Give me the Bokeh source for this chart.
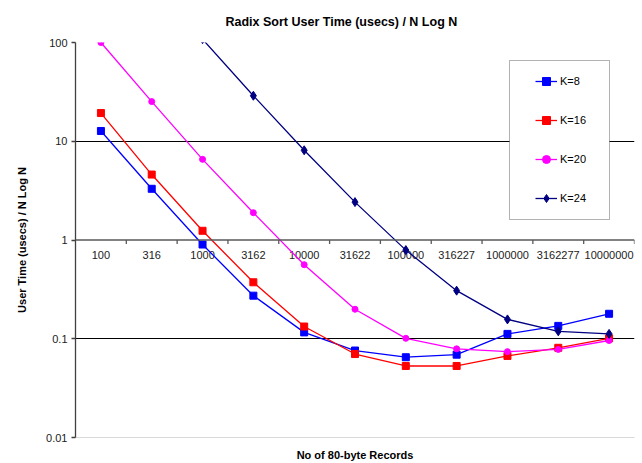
import math
from bokeh.plotting import figure
from bokeh.models import (FactorRange, Range1d, FixedTicker, Span, CategoricalAxis,
                          Legend, LegendItem, BoxAnnotation, ColumnDataSource,
                          CustomJSTickFormatter)
from bokeh.transform import dodge
from bokeh.core.properties import value
from bokeh.embed import file_html
from bokeh.resources import INLINE

# ---------------- data ----------------
records = ["100", "316", "1000", "3162", "10000", "31622", "100000", "316227",
           "1000000", "3162277", "10000000"]
k8 = [12.7, 3.3, 0.90, 0.273, 0.116, 0.076, 0.065, 0.069, 0.112, 0.135, 0.179]
k16 = [19.3, 4.6, 1.24, 0.373, 0.133, 0.070, 0.053, 0.053, 0.067, 0.081, 0.101]
k20 = [100.0, 25.2, 6.56, 1.89, 0.562, 0.199, 0.101, 0.079, 0.074, 0.078, 0.096]
k24 = [float("nan"), float("nan"), 108.0, 28.9, 8.1, 2.42, 0.79, 0.307, 0.157, 0.119, 0.112]
series_names = ["K=8", "K=16", "K=20", "K=24"]

y_ticks = [0.01, 0.1, 1, 10, 100]
y_tick_labels = ["0.01", "0.1", "1", "10", "100"]
grid_values = [0.1, 10]
x_axis_cross = 1

title_text = "Radix Sort User Time (usecs) / N Log N"
x_title = "No of 80-byte Records"
y_title = "User Time (usecs) / N Log N"

FONT = "Liberation Sans"

# ---------------- layout numbers ----------------
W, H = 642, 463
B_LEFT, B_RIGHT, B_TOP, B_BOTTOM = 75, 8, 42, 26
frame_w = W - B_LEFT - B_RIGHT
frame_h = H - B_TOP - B_BOTTOM
decades = math.log10(y_ticks[-1] / y_ticks[0])
px_per_decade = frame_h / decades
tick_px = 4

p = figure(width=W, height=H,
           x_range=FactorRange(factors=records),
           y_range=Range1d(y_ticks[0], y_ticks[-1]),
           y_axis_type="log", x_axis_location=None,
           output_backend="svg", toolbar_location=None,
           min_border_left=B_LEFT, min_border_right=B_RIGHT,
           min_border_top=B_TOP, min_border_bottom=B_BOTTOM)
p.outline_line_color = None
p.background_fill_color = "white"

# chart title
p.title.text = title_text
p.title.text_font = FONT
p.title.text_font_size = "12.5px"
p.title.text_font_style = "bold"
p.title.text_color = "black"
p.title.align = "left"
p.title.offset = 150
p.title.vertical_align = "top"
p.title.standoff = 24

# helper range for the tick-less bottom axis
p.extra_x_ranges = {"blank": FactorRange(factors=["blank"])}
bax = CategoricalAxis(x_range_name="blank", ticker=FixedTicker(ticks=[]),
                      axis_line_color="#d9d9d9", axis_line_width=1,
                      major_tick_line_color=None, minor_tick_line_color=None,
                      major_tick_out=0, major_tick_in=0, major_label_standoff=0,
                      axis_label=x_title, axis_label_standoff=11,
                      axis_label_text_font=FONT, axis_label_text_font_size="11px",
                      axis_label_text_font_style="bold",
                      axis_label_text_color="black")
p.add_layout(bax, "below")

# y axis
ya = p.yaxis[0]
ya.ticker = FixedTicker(ticks=y_ticks, minor_ticks=[])
ya.formatter = CustomJSTickFormatter(code="return String(tick);")
ya.major_label_overrides = dict(zip(y_ticks, y_tick_labels))
ya.axis_line_color = "#404040"
ya.axis_line_width = 1.3
ya.major_tick_line_color = "#404040"
ya.major_tick_line_width = 1.3
ya.major_tick_out = 4
ya.major_tick_in = 0
ya.minor_tick_line_color = None
ya.major_label_text_font = FONT
ya.major_label_text_font_size = "11px"
ya.major_label_text_color = "#222222"
ya.major_label_standoff = 4
ya.axis_label = y_title
ya.axis_label_text_font = FONT
ya.axis_label_text_font_size = "11px"
ya.axis_label_text_font_style = "bold"
ya.axis_label_text_color = "black"
ya.axis_label_standoff = 15

# grid
p.xgrid.visible = False
p.ygrid.ticker = FixedTicker(ticks=grid_values)
p.ygrid.grid_line_color = "black"
p.ygrid.grid_line_width = 1

# category axis drawn at y = 1
p.add_layout(Span(location=x_axis_cross, dimension="width",
                  line_color="#595959", line_width=1.5))
tick_src = ColumnDataSource(dict(
    cat=records,
    y0=[x_axis_cross] * len(records),
    y1=[x_axis_cross / 10 ** (tick_px / px_per_decade)] * len(records)))
p.segment(x0=dodge("cat", 0.5, range=p.x_range), x1=dodge("cat", 0.5, range=p.x_range),
          y0="y0", y1="y1", source=tick_src, line_color="#595959", line_width=1.3)
p.text(x="cat", y="y0", text="cat", source=tick_src, text_align="center",
       text_baseline="top", y_offset=11, text_font=value(FONT),
       text_font_size="11px", text_color="#222222")

# series
styles = [("#0000FF", "square", 7), ("#FF0000", "square", 7),
          ("#FF00FF", "circle", 6), ("#000080", "diamond", 9)]
items = []
for name, vals, (col, mk, sz) in zip(series_names, [k8, k16, k20, k24], styles):
    src = ColumnDataSource(dict(x=records, y=vals))
    lr = p.line("x", "y", source=src, line_color=col, line_width=1.3)
    sr = p.scatter("x", "y", source=src, marker=mk, size=sz, fill_color=col, line_color=col)
    items.append(LegendItem(label=name, renderers=[lr, sr]))

# legend box
p.add_layout(BoxAnnotation(left=434, right=534, bottom=218, top=377,
                           left_units="screen", right_units="screen",
                           bottom_units="screen", top_units="screen",
                           fill_color="white", fill_alpha=1,
                           line_color="black", line_width=1))
legend = Legend(items=items, location=(460, 229), padding=0, margin=0,
                spacing=19, label_height=20, glyph_height=20, glyph_width=22,
                label_standoff=3, background_fill_alpha=0, border_line_color=None,
                label_text_font=FONT, label_text_font_size="11px",
                label_text_color="black")
p.add_layout(legend)

open("out.html", "w").write(file_html(p, INLINE))
